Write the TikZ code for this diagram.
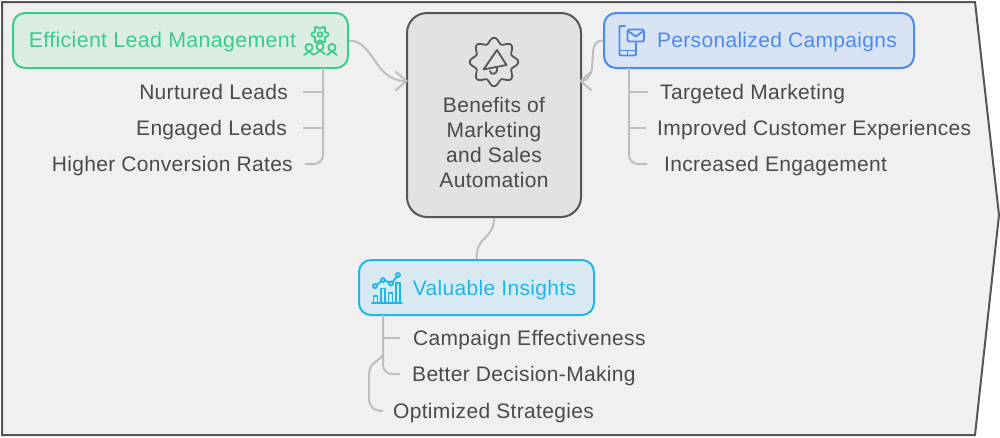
\documentclass[tikz,border=0pt]{standalone}
\usepackage{fontspec}
\setmainfont[LetterSpace=1.5]{Liberation Sans}
\usetikzlibrary{arrows.meta}
\definecolor{bggray}{HTML}{F0F0F0}
\definecolor{edgegray}{HTML}{555555}
\definecolor{centerfill}{HTML}{E2E2E2}
\definecolor{linkgray}{HTML}{BEBEBE}
\definecolor{textgray}{HTML}{4A4A4A}
\definecolor{leadgreen}{HTML}{3DCB8B}
\definecolor{leadfill}{HTML}{DCEDE4}
\definecolor{campblue}{HTML}{4C8BEE}
\definecolor{campfill}{HTML}{D8E3F3}
\definecolor{insightcyan}{HTML}{1FB5EA}
\definecolor{insightfill}{HTML}{D9E9F2}

\begin{document}
\begin{tikzpicture}[
  x=1pt,y=-1pt,
  topic/.style={draw,line width=2pt,rounded corners=12pt,minimum height=55pt},
  lead/.style={topic,fill=leadfill,draw=leadgreen,minimum width=335pt},
  camp/.style={topic,fill=campfill,draw=campblue,minimum width=310pt},
  insight/.style={topic,fill=insightfill,draw=insightcyan,minimum width=235pt},
  hub/.style={draw=edgegray,fill=centerfill,line width=2pt,rounded corners=20pt,
    minimum width=174pt,minimum height=204pt},
  toptext/.style={font=\fontsize{21}{25}\selectfont,inner sep=0pt,text height=16pt,text depth=2pt},
  leaf/.style={font=\fontsize{21}{25}\selectfont,text=textgray,inner ysep=0pt,
    inner xsep=12pt,text height=16pt,text depth=2pt},
  link/.style={draw=linkgray,line width=2pt},
  arrow/.style={link,-{Straight Barb[length=11pt,width=19pt]}},
  branch/.style={link,rounded corners=9pt},
  iconline/.style={line width=1.8pt,line join=round,line cap=round}
]
  \useasboundingbox (0,0) rectangle (1000,437);
  \draw[draw=edgegray,fill=bggray,line width=2pt] (2,2) -- (975,2) -- (999,215) -- (975,435) -- (2,435) -- cycle;

  \node[hub] (center) at (494,115) {};
  \node[lead] (lead) at (180.5,40.5) {};
  \node[camp] (camp) at (759,40.5) {};
  \node[insight] (insight) at (476.5,287.5) {};

  \node[align=center,font=\fontsize{21}{25}\selectfont,text=textgray,inner sep=0pt] (centertext) at (494,142)
    {Benefits of\\Marketing\\and Sales\\Automation};
  \node[toptext,text=leadgreen,font=\fontsize{21.4}{25}\selectfont] (leadtext) at (162.5,40.5) {Efficient Lead Management};
  \node[toptext,text=campblue] (camptext) at (777,40.5) {Personalized Campaigns};
  \node[toptext,text=insightcyan] (insighttext) at (494.5,288) {Valuable Insights};

  \node[leaf,anchor=east,inner xsep=15pt] (nurtured) at (303,92) {Nurtured Leads};
  \node[leaf,anchor=east,inner xsep=16pt] (engaged) at (303,128) {Engaged Leads};
  \node[leaf,anchor=east] (higher) at (305,164) {Higher Conversion Rates};
  \node[leaf,anchor=west] (targeted) at (648,92) {Targeted Marketing};
  \node[leaf,anchor=west,inner xsep=11pt] (improved) at (646,128) {Improved Customer Experiences};
  \node[leaf,anchor=west,inner xsep=17pt] (increased) at (647,164) {Increased Engagement};
  \node[leaf,anchor=west,inner xsep=13pt] (effective) at (400,338) {Campaign Effectiveness};
  \node[leaf,anchor=west] (decision) at (400,374) {Better Decision-Making};
  \node[leaf,anchor=west,inner xsep=10pt] (optimized) at (383,411) {Optimized Strategies};

  \coordinate (leadspine) at (323,68);
  \coordinate (campspine) at (629,68);
  \coordinate (insightspine) at (383,315);
  \coordinate (insightfork) at (383,355);

  \draw[arrow] (lead.east) .. controls (374,40.5) and (374,81) .. ([xshift=2pt,yshift=34pt]center.west);
  \draw[arrow] (camp.west) .. controls (597,40.5) and (593,44) .. (593,54)
    -- (592,68) .. controls (591,76) and (586,81) .. ([xshift=-3pt,yshift=34pt]center.east);
  \draw[link] (center.south) .. controls (494,240) and (476,235) .. (insight.north);

  \foreach \x in {nurtured,engaged} {
    \draw[link] (leadspine |- \x.east) -- (\x.east);
  }
  \draw[branch] (leadspine) |- (higher.east);
  \foreach \x in {targeted,improved} {
    \draw[link] (campspine |- \x.west) -- (\x.west);
  }
  \draw[branch] (campspine) |- (increased.west);
  \draw[link] (insightspine |- effective.west) -- (effective.west);
  \draw[branch] (insightspine) |- (decision.west);
  \draw[link] (insightfork) .. controls (376,364) and (369,362) .. (369,376)
    -- (369,398) .. controls (369,407) and (374,411) .. (optimized.west);

  \draw[iconline,edgegray] plot[domain=0:360,samples=145,smooth]
    ({494+(21.5+2.7*cos(8*\x))*cos(\x)},{62+(21.5+2.7*cos(8*\x))*sin(\x)}) -- cycle;
  \draw[iconline,edgegray] (497,50) -- (506.5,65) -- (483.5,69.5) -- cycle;
  \draw[iconline,edgegray] (490,71) .. controls (490,75.5) and (498,75) .. (497,68);

  \draw[iconline,leadgreen] plot[domain=0:360,samples=73,smooth]
    ({320+(7.2+1.5*cos(6*\x))*cos(\x)},{34.5+(7.2+1.5*cos(6*\x))*sin(\x)}) -- cycle;
  \draw[iconline,leadgreen] (320,34.5) circle (2.4pt);
  \foreach \cx/\cy in {309/47.5,320/46.5,332/47.5} {
    \draw[iconline,leadgreen] (\cx,\cy) circle (3.6pt);
    \draw[iconline,leadgreen] (\cx-5,\cy+7.5) .. controls (\cx-3,\cy+5) .. (\cx,\cy+4)
      .. controls (\cx+3,\cy+5) .. (\cx+5,\cy+7.5);
  }

  \draw[iconline,campblue] (625,26) -- (621,26) .. controls (619.5,26) .. (619.5,28) -- (619.5,53)
    .. controls (619.5,55.5) .. (622,55.5) -- (633,55.5) .. controls (636,55.5) .. (636,53) -- (636,43);
  \draw[iconline,campblue] (619.5,50.5) -- (636,50.5) (627.5,50.5) -- (627.5,55.5);
  \draw[iconline,campblue,rounded corners=1.5pt] (627.5,29.5) rectangle (644,41.5);
  \draw[iconline,campblue] (628,31) -- (635.7,36.5) -- (643.5,31);

  \draw[iconline,insightcyan] (372,303) -- (402,303);
  \foreach \lx/\rx/\ty in {373.5/377.5/296,381/385/288.5,388.5/392.5/293,396/400/283} {
    \draw[iconline,insightcyan] (\lx,303) -- (\lx,\ty) -- (\rx,\ty) -- (\rx,303);
  }
  \draw[iconline,insightcyan] (376.5,285) -- (381.5,281) (385,280.5) -- (389,282.5) (393,281.5) -- (396.5,277);
  \foreach \cx/\cy in {375/286,383/280,391/283.5,398/275} {
    \draw[iconline,insightcyan] (\cx,\cy) circle (2pt);
  }
\end{tikzpicture}
\end{document}
